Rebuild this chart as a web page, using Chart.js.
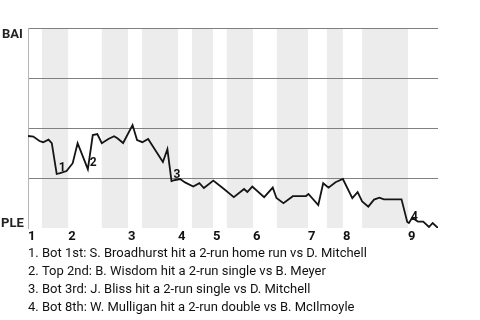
<!DOCTYPE html>
<html>
<head>
<meta charset="utf-8">
<script src="https://cdn.jsdelivr.net/npm/chart.js@4/dist/chart.umd.min.js"></script>
<style>
  html, body { margin: 0; padding: 0; background: #fff; }
  #wrap { width: 480px; height: 320px; }
</style>
</head>
<body>
<div id="wrap"><canvas id="c" width="480" height="320"></canvas></div>
<script>
// Game progress (0–100) of each plate appearance and BAI win probability (%)
const progress = [0,1.3,2.8,3.7,5.0,5.8,7.0,7.8,9.4,10.9,12.1,14.6,15.8,16.9,18.0,19.6,21.0,21.8,23.2,25.5,26.6,27.9,29.3,32.9,34.0,35.0,35.9,37.1,38.3,40.3,41.8,42.9,45.2,47.8,50.2,52.7,53.5,54.7,57.6,59.7,60.6,62.3,64.6,67.8,68.4,70.8,72.0,73.3,75.0,76.8,79.1,80.4,81.5,83.0,84.4,85.7,86.8,91.1,92.5,92.9,93.7,95.1,96.4,97.8,98.7,100];
const baiWinPct = [46,45.7,43.5,42.9,44.2,42.4,27,27.4,28.5,32.4,42.4,29.4,46.5,47,42.4,44.5,45.9,44.9,42.5,51.5,44,42.9,44.5,33,39.4,23.5,24,24.5,22.8,20.7,22.4,20,23.7,19.5,15.4,19.5,18,20.7,15.4,20.2,15,12.4,15.9,16,17,11.5,22.4,20.2,22.9,24.5,14.9,17.9,13.3,10.7,14.2,15.2,14.3,14.3,3,2.5,5.1,3.2,3.2,0.5,2.5,0];

// Innings
const inningLabels = ['1','2','3','4','5','6','7','8','9'];
const inningStart = [0,9.8,24.4,36.6,45.1,54.9,68.3,76.8,92.7];
const bottomHalfStart = [3.4,18.0,27.8,40.0,48.5,60.7,72.9,81.5];
const bottomHalfEnd = [9.8,24.4,36.6,45.1,54.9,68.3,76.8,92.7];

// Teams
const topTeam = 'BAI';
const bottomTeam = 'PLE';

// Key plays
const keyPlayLabels = ['1','2','3','4'];
const keyPlayAt = [7.0, 14.6, 35.0, 92.9];
const keyPlayNotes = [
  '1. Bot 1st: S. Broadhurst hit a 2-run home run vs D. Mitchell',
  '2. Top 2nd: B. Wisdom hit a 2-run single vs B. Meyer',
  '3. Bot 3rd: J. Bliss hit a 2-run single vs D. Mitchell',
  '4. Bot 8th: W. Mulligan hit a 2-run double vs B. McIlmoyle'
];

const FONT = 'Roboto';

const bandsPlugin = {
  id: 'bands',
  beforeDraw(chart) {
    const {ctx, chartArea, scales: {x}} = chart;
    ctx.save();
    ctx.fillStyle = '#ececec';
    for (let i = 0; i < bottomHalfStart.length; i++) {
      const x0 = x.getPixelForValue(bottomHalfStart[i]);
      const x1 = x.getPixelForValue(bottomHalfEnd[i]);
      ctx.fillRect(x0, chartArea.top, x1 - x0, chartArea.bottom - chartArea.top);
    }
    ctx.restore();
  }
};

const labelsPlugin = {
  id: 'labels',
  afterDatasetsDraw(chart) {
    const {ctx, chartArea, scales: {x, y}} = chart;
    ctx.save();
    ctx.fillStyle = '#111';
    ctx.font = 'bold 12px ' + FONT;
    ctx.textAlign = 'left';
    ctx.textBaseline = 'alphabetic';
    keyPlayLabels.forEach((lab, i) => {
      const idx = progress.indexOf(keyPlayAt[i]);
      const px = x.getPixelForValue(progress[idx]);
      const py = y.getPixelForValue(baiWinPct[idx]);
      ctx.fillText(lab, px + 2, py - 3);
    });
    ctx.font = 'bold 13px ' + FONT;
    ctx.fillStyle = '#222';
    ctx.textBaseline = 'top';
    ctx.fillText(topTeam, chartArea.left - 26, y.getPixelForValue(100) + 0.5);
    ctx.textBaseline = 'alphabetic';
    ctx.fillText(bottomTeam, chartArea.left - 27, y.getPixelForValue(0) - 1.5);
    ctx.restore();
  }
};

new Chart(document.getElementById('c'), {
  type: 'line',
  data: {
    datasets: [{
      data: progress.map((p, i) => ({x: p, y: baiWinPct[i]})),
      borderColor: '#151515',
      borderWidth: 1.8,
      pointRadius: 0,
      tension: 0,
      fill: false
    }]
  },
  options: {
    responsive: false,
    animation: false,
    layout: { padding: { left: 28, right: 42, top: 28, bottom: 3 } },
    plugins: {
      legend: { display: false },
      tooltip: { enabled: false },
      title: {
        display: true,
        position: 'bottom',
        align: 'start',
        text: keyPlayNotes,
        color: '#111',
        font: { family: FONT, size: 13, weight: 'normal', lineHeight: 18/13 },
        padding: { top: 0, bottom: 0 }
      }
    },
    scales: {
      x: {
        type: 'linear',
        min: 0,
        max: 100,
        afterBuildTicks(scale) {
          scale.ticks = inningStart.map(v => ({value: v}));
        },
        ticks: {
          autoSkip: false,
          maxRotation: 0,
          align: 'start',
          padding: 2,
          color: '#111',
          font: { family: FONT, size: 13, weight: 'bold', lineHeight: 1 },
          callback(value) {
            const i = inningStart.indexOf(value);
            return i >= 0 ? inningLabels[i] : '';
          }
        },
        grid: { display: false, drawTicks: false },
        border: { display: false }
      },
      y: {
        min: 0,
        max: 100,
        ticks: { display: false, stepSize: 25 },
        grid: {
          drawTicks: false,
          lineWidth: 1,
          color: ctx => (ctx.tick && ctx.tick.value === 0) ? 'rgba(0,0,0,0)' : '#808080'
        },
        border: { display: true, color: '#b4b4b4', width: 1 }
      }
    }
  },
  plugins: [bandsPlugin, labelsPlugin]
});
</script>
</body>
</html>
